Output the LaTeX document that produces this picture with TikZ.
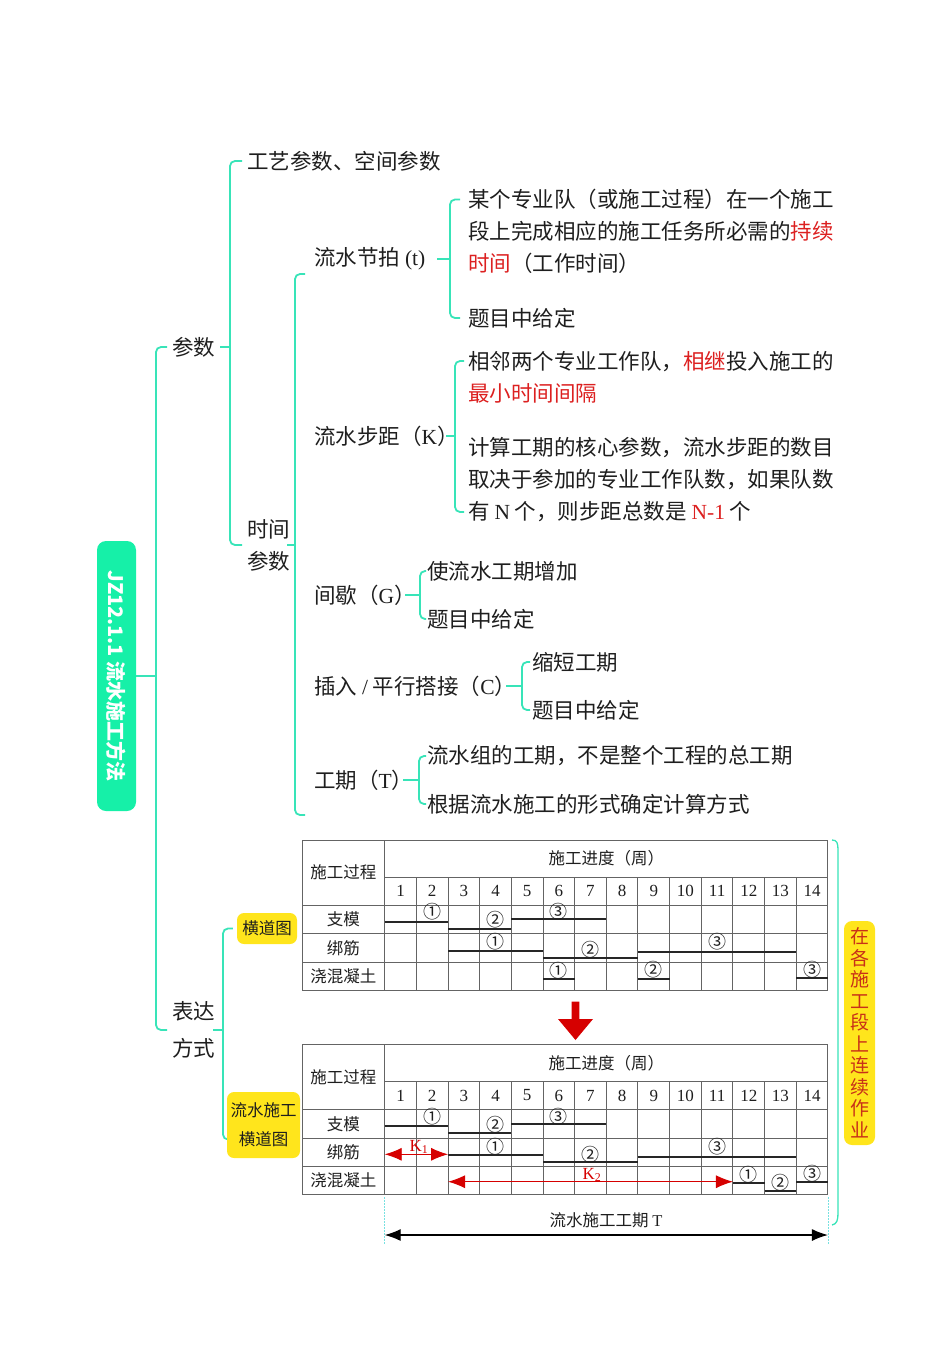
\documentclass[tikz,border=0pt]{standalone}
\usepackage{fontspec}
\setmainfont{Noto Sans CJK SC}
\newfontfamily\ser{Liberation Serif}
\usetikzlibrary{arrows.meta,calc,backgrounds}
\definecolor{lnk}{RGB}{56,228,184}
\definecolor{rootg}{RGB}{22,240,168}
\definecolor{yel}{RGB}{255,229,28}
\definecolor{redt}{RGB}{220,32,32}
\definecolor{arrred}{RGB}{214,0,0}
\definecolor{gridc}{RGB}{100,100,100}
\definecolor{ink}{RGB}{30,30,30}
\definecolor{notec}{RGB}{200,48,24}
\definecolor{dotc}{RGB}{120,225,225}
\newcommand\cx[1]{384.7+31.66*(#1-1)}
\newcommand\gbar[8]{% y0, from, to, rel y, label col, label rel y, text, name
  \draw[barln] ({\cx{#2}},#1+#4) -- ({\cx{#3}},#1+#4);
  \node[cnum] (#8) at ({\cx{#5}+15.83},#1+#6) {#7};}
\newcommand\gtable[2]{%
  \draw[gridln] (302,#1) rectangle (827.9,#1+150);
  \draw[gridln] (384.7,#1+37) -- (827.9,#1+37);
  \foreach \r in {65.3,93.7,122}{\draw[gridln] (302,#1+\r) -- (827.9,#1+\r);}
  \draw[gridln] (384.7,#1) -- (384.7,#1+150);
  \foreach \i in {2,...,14}{\draw[gridln] ({\cx{\i}},#1+37) -- ({\cx{\i}},#1+150);}
  \node[ttxt] (#2p) at (343.3,#1+32.5) {施工过程};
  \node[ttxt] (#2h) at (606.3,#1+18.5) {施工进度（周）};
  \foreach \i in {1,...,14}{\node[ntxt] (#2n\i) at ({\cx{\i}+15.83},#1+51) {\i};}
  \node[ttxt] (#2a) at (343.3,#1+79.5) {支模};
  \node[ttxt] (#2b) at (343.3,#1+108) {绑筋};
  \node[ttxt] (#2c) at (343.3,#1+136) {浇混凝土};
  \gbar{#1}{1}{3}{81.7}{2}{72}{①}{#2a1}
  \gbar{#1}{3}{5}{88.7}{4}{80}{②}{#2a2}
  \gbar{#1}{5}{8}{79.3}{6}{72}{③}{#2a3}
  \gbar{#1}{3}{6}{110.7}{4}{102}{①}{#2b1}
  \gbar{#1}{6}{9}{117.7}{7}{110}{②}{#2b2}
  \gbar{#1}{9}{14}{112.3}{11}{102}{③}{#2b3}
}
\begin{document}
\begin{tikzpicture}[x=1pt,y=-1pt,
  txt/.style={anchor=west, inner sep=0pt, text=ink, align=left, font=\fontsize{21.5}{32}\selectfont},
  cn/.style={draw=lnk, line width=1.8pt, rounded corners=5pt},
  gridln/.style={draw=gridc, line width=1pt},
  barln/.style={draw=black!85, line width=1.8pt},
  ttxt/.style={inner sep=0pt, text=ink, font=\fontsize{16.5}{20}\selectfont},
  ntxt/.style={inner sep=0pt, text=ink, font=\ser\fontsize{17}{20}\selectfont},
  cnum/.style={inner sep=0pt, text=ink, font=\fontsize{18}{18}\selectfont},
  ynode/.style={fill=yel, rounded corners=7pt, inner sep=0pt, text=ink, align=center, font=\fontsize{16.5}{29}\selectfont},
  karr/.style={draw=arrred, line width=0.9pt, arrows={Latex[length=17pt,width=13pt]-Latex[length=17pt,width=13pt]}},
  tarr/.style={draw=black, line width=1.2pt, arrows={Latex[length=16pt,width=12pt]-Latex[length=16pt,width=12pt]}},
  dotln/.style={draw=dotc, line width=0.8pt, dash pattern=on 1.5pt off 1.5pt}]
\useasboundingbox (0,0) rectangle (950,1365);

% root
\node[rotate=-90, fill=rootg, rounded corners=9pt, minimum width=270pt, minimum height=39pt, inner sep=0pt, text=white, font=\bfseries\fontsize{20}{24}\selectfont] (root) at (116.5,676) {JZ12.1.1 流水施工方法};

% level 1
\node[txt] (cs) at (172,347) {参数};
\node[txt, font=\fontsize{21.5}{37}\selectfont] (bd) at (172,1030) {表达\\方式};

% parameters
\node[txt] (gy) at (247,161) {工艺参数、空间参数};
\node[txt] (sj) at (247,545) {时间\\参数};

\node[txt] (jp) at (314,259) {流水节拍 {\ser(t)}};
\node[txt] (jp1) at (468,231.5) {某个专业队（或施工过程）在一个施工\\段上完成相应的施工任务所必需的{\color{redt}持续}\\{\color{redt}时间}（工作时间）};
\node[txt] (jp2) at (468,318) {题目中给定};

\node[txt] (bj) at (314,436) {流水步距（{\ser K}）};
\node[txt] (bj1) at (468,377) {相邻两个专业工作队，{\color{redt}相继}投入施工的\\{\color{redt}最小时间间隔}};
\node[txt] (bj2) at (468,480) {计算工期的核心参数，流水步距的数目\\取决于参加的专业工作队数，如果队数\\有 {\ser N} 个，则步距总数是 {\color{redt}\ser N-1} 个};

\node[txt] (jx) at (314,595) {间歇（{\ser G}）};
\node[txt] (jx1) at (427,571) {使流水工期增加};
\node[txt] (jx2) at (427,619) {题目中给定};

\node[txt] (cr) at (314,686) {插入 {\ser /} 平行搭接（{\ser C}）};
\node[txt] (cr1) at (532,662) {缩短工期};
\node[txt] (cr2) at (532,710) {题目中给定};

\node[txt] (gq) at (314,780) {工期（{\ser T}）};
\node[txt] (gq1) at (427,756) {流水组的工期，不是整个工程的总工期};
\node[txt] (gq2) at (427,804) {根据流水施工的形式确定计算方式};

% expression
\node[ynode, minimum width=60pt, minimum height=31pt] (hd) at (267,928.5) {横道图};
\node[ynode, minimum width=73pt, minimum height=66pt] (ls) at (263.5,1125) {流水施工\\横道图};

% connectors
\coordinate (ja) at ($(jp.west)+(-9,15)$);
\coordinate (jb) at ($(gq.west)+(-9,35)$);
\begin{scope}[on background layer]
\draw[cn] (root.north) -- (156,0 |- root.north);
\draw[cn] ([xshift=-5pt]cs.west) -- (156,0 |- cs.west) -- (156,0 |- bd.west) -- ([xshift=-5pt]bd.west);
\draw[cn] (220,0 |- cs.east) -- (230,0 |- cs.east);
\draw[cn] ([xshift=-5pt]gy.west) -- (230,0 |- gy.west) -- (230,0 |- sj.west) -- ([xshift=-5pt]sj.west);
\draw[cn] (287,0 |- sj.east) -- (295,0 |- sj.east);
\draw[cn] (ja) -- (295,0 |- ja) -- (295,0 |- jb) -- (jb);
\draw[cn] (437,0 |- jp.east) -- (450,0 |- jp.east);
\draw[cn] ($(jp1.west)+(-8,-32)$) -- ($(jp1.west)+(-18,-32)$) -- ($(jp2.west)+(-18,0)$) -- ($(jp2.west)+(-8,0)$);
\draw[cn] (446,0 |- bj.east) -- (455,0 |- bj.east);
\draw[cn] ($(bj1.west)+(-4,-16)$) -- ($(bj1.west)+(-13,-16)$) -- ($(bj2.west)+(-13,32)$) -- ($(bj2.west)+(-4,32)$);
\draw[cn] (405,0 |- jx.east) -- (420,0 |- jx.east);
\draw[cn] ([xshift=-1pt]jx1.west) -- (420,0 |- jx1.west) -- (420,0 |- jx2.west) -- ([xshift=-1pt]jx2.west);
\draw[cn] (506,0 |- cr.east) -- (522,0 |- cr.east);
\draw[cn] ([xshift=-2pt]cr1.west) -- (522,0 |- cr1.west) -- (522,0 |- cr2.west) -- ([xshift=-2pt]cr2.west);
\draw[cn] (403,0 |- gq.east) -- (419,0 |- gq.east);
\draw[cn] ([xshift=-1pt]gq1.west) -- (419,0 |- gq1.west) -- (419,0 |- gq2.west) -- ([xshift=-1pt]gq2.west);
\draw[cn] (213,0 |- bd.east) -- (223,0 |- bd.east);
\draw[cn] ([xshift=-4pt]hd.west) -- (223,0 |- hd.west) -- ($(223,0 |- ls.west)+(0,14.5)$) -- ($(ls.west)+(6,14.5)$);
\end{scope}

% tables
\gtable{840}{ta}
\gbar{840}{6}{7}{139.3}{6}{131}{①}{tac1}
\gbar{840}{9}{10}{139}{9}{130}{②}{tac2}
\gbar{840}{14}{15}{138.3}{14}{130}{③}{tac3}

\gtable{1044.5}{tb}
\gbar{1044.5}{12}{13}{138.8}{12}{130.5}{①}{tbc1}
\gbar{1044.5}{13}{14}{146.2}{13}{138.2}{②}{tbc2}
\gbar{1044.5}{14}{15}{137.2}{14}{129.5}{③}{tbc3}
\coordinate (k1a) at ({\cx{1}},1154.3);
\coordinate (k1b) at ({\cx{3}},1154.3);
\draw[karr] (k1a) -- (k1b);
\node[inner sep=0pt, text=arrred, font=\ser\fontsize{17}{17}\selectfont] (k1) at (419,1147) {K\textsubscript{1}};
\coordinate (k2a) at ({\cx{3}},1181.7);
\coordinate (k2b) at ({\cx{12}},1181.7);
\draw[karr] (k2a) -- (k2b);
\node[inner sep=0pt, text=arrred, font=\ser\fontsize{17}{17}\selectfont] (k2) at (592,1175) {K\textsubscript{2}};

% down arrow
\fill[arrred] (571.7,1001.7) -- (579.3,1001.7) -- (579.3,1019) -- (593,1019) -- (575.5,1040) -- (558,1019) -- (571.7,1019) -- cycle;

% total period
\draw[dotln] (384.7,1197) -- (384.7,1245);
\draw[dotln] (827.9,1197) -- (827.9,1245);
\node[ttxt] (tT) at (606,1220) {流水施工工期 {\ser T}};
\coordinate (tl) at (384.7,1235);
\coordinate (tr) at (827.9,1235);
\draw[tarr] (tl) -- (tr);

% right summary brace and note
\draw[draw=lnk, line width=1.3pt] (832,840) .. controls (837,840) and (838,843) .. (838,850) -- (838,1213) .. controls (838,1220) and (837,1224) .. (832,1225);
\node[fill=yel, rounded corners=8pt, minimum width=31pt, minimum height=224pt, inner sep=0pt, text=notec, align=center, font=\fontsize{19}{21.5}\selectfont] (note) at (859.5,1033) {在\\各\\施\\工\\段\\上\\连\\续\\作\\业};
\end{tikzpicture}
\end{document}
